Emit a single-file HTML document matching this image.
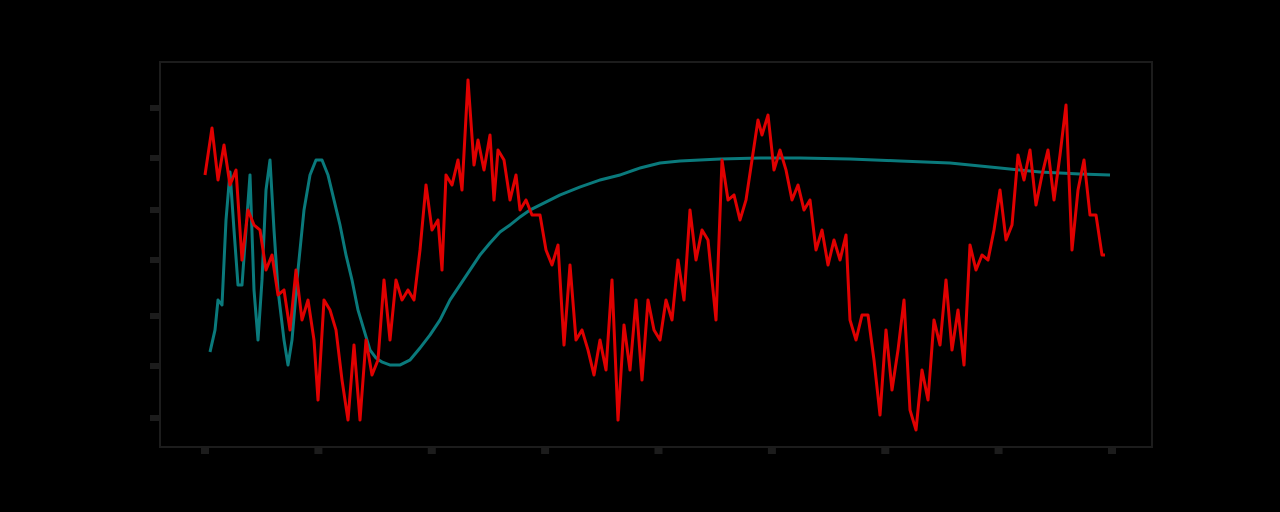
<!DOCTYPE html>
<html><head><meta charset="utf-8"><style>
html,body{margin:0;padding:0;background:#000;}
svg{display:block;}
</style></head><body>
<svg id="chart" width="1280" height="512" viewBox="0 0 1280 512" xmlns="http://www.w3.org/2000/svg">
<rect x="0" y="0" width="1280" height="512" fill="#000"/>
<rect x="160" y="62" width="992" height="385" fill="none" stroke="#1c1c1c" stroke-width="2"/>
<g id="ticks"></g>
<g id="series"></g>
</svg>
<script>
const xTicks = [0, 113.4, 226.8, 340.1, 453.5, 566.9, 680.3, 793.6, 907];
const yTicks = [30, 82, 132, 188, 238, 290, 340];
const redX = [0,7,13,19,25,31,37,43,49,55,61,67,73,79,85,91,97,103,109,113,119,125,131,137,143,149,155,161,167,173,179,185,191,197,203,209,215,221,227,233,237,241,247,253,257,263,269,273,279,285,289,293,299,305,311,315,321,327,335,341,347,353,359,365,371,377,383,389,395,401,407,413,419,425,431,437,443,449,455,461,467,473,479,485,491,497,503,511,517,523,529,535,541,547,553,557,563,569,575,581,587,593,599,605,611,617,623,629,635,641,645,651,657,663,669,675,681,687,693,699,705,711,717,723,729,735,741,747,753,759,765,771,777,783,789,795,801,807,813,819,825,831,837,843,849,855,861,867,873,879,885,891,897,900];
const redV = [273,320,268,303,263,278,188,238,223,218,178,193,153,158,118,178,128,148,108,48,148,138,118,68,28,103,28,108,73,88,168,108,168,148,158,148,198,263,218,228,178,273,263,288,258,368,283,308,278,313,248,298,288,248,273,238,248,233,233,198,183,203,103,183,108,118,98,73,108,78,168,28,123,78,148,68,148,118,108,148,128,188,148,238,188,218,208,128,288,248,253,228,248,288,328,313,333,278,298,278,248,263,238,248,198,218,183,208,188,213,128,108,133,133,88,33,118,58,98,148,38,18,78,48,128,103,168,98,138,83,203,178,193,188,218,258,208,223,293,268,298,243,273,298,248,293,343,198,258,288,233,233,193,193];
const tealX = [5,10,13,17,21,25,29,33,37,41,45,49,53,57,61,65,69,73,79,83,87,93,99,105,111,117,123,129,135,141,147,153,159,165,171,177,185,195,205,215,225,235,245,255,265,275,285,295,305,315,325,335,355,375,395,415,435,455,475,495,515,555,595,645,695,745,795,835,875,905];
const tealV = [96,118,148,143,228,276,218,163,163,218,273,158,108,168,258,288,218,158,108,83,108,178,238,273,288,288,273,248,223,193,168,138,118,98,90,86,83,83,88,100,113,128,148,163,178,193,205,216,223,231,238,243,253,261,268,273,280,285,287,288,289,290,290,289,287,285,280,276,274,273];

const X0=205, X1=1112, Y0=448, Y1=63;
const xs = v => X0 + (v - 0) / 907 * (X1 - X0);
const ys = v => Y0 - (v - 0) / 385 * (Y0 - Y1);
const NS='http://www.w3.org/2000/svg';
const tg=document.getElementById('ticks'), sg=document.getElementById('series');
xTicks.forEach(t=>{const r=document.createElementNS(NS,'rect');
r.setAttribute('x',xs(t)-4);r.setAttribute('y',448);r.setAttribute('width',8);r.setAttribute('height',6);r.setAttribute('fill','#1c1c1c');


tg.appendChild(r);});
yTicks.forEach(t=>{const r=document.createElementNS(NS,'rect');
r.setAttribute('x',150);r.setAttribute('y',ys(t)-3);r.setAttribute('width',9);r.setAttribute('height',6);r.setAttribute('fill','#1c1c1c');


tg.appendChild(r);});
function line(xa,va,color,w,name){const p=document.createElementNS(NS,'polyline');
p.setAttribute('points',xa.map((x,i)=>xs(x).toFixed(1)+','+ys(va[i]).toFixed(1)).join(' '));
p.setAttribute('fill','none');p.setAttribute('stroke',color);p.setAttribute('stroke-width',w);p.setAttribute('stroke-linejoin','round');


sg.appendChild(p);}
line(tealX,tealV,'#0a7a7c',3,'teal-series-line');
line(redX,redV,'#e00000',3,'red-series-line');
</script>
</body></html>
